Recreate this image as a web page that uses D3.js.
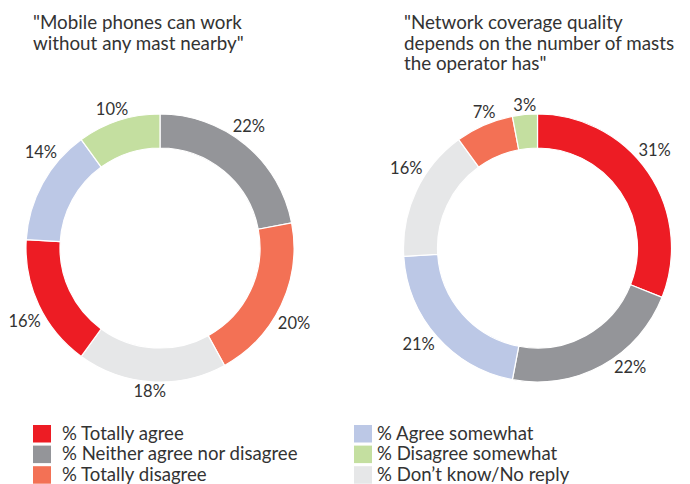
<!DOCTYPE html>
<html>
<head>
<meta charset="utf-8">
<script src="https://cdn.jsdelivr.net/npm/d3@7"></script>
<style>
  html, body { margin: 0; padding: 0; background: #fff; }
  svg text { font-family: Lato, "Noto Sans", sans-serif; fill: #333; }
</style>
</head>
<body>
<svg id="chart" width="690" height="484"></svg>
<script>
// Response categories (legend order) and their colours
const categories = [
  "% Totally agree",
  "% Neither agree nor disagree",
  "% Totally disagree",
  "% Agree somewhat",
  "% Disagree somewhat",
  "% Don\u2019t know/No reply"
];
const colors = ["#ED1C24", "#949599", "#F37155", "#BCC8E6", "#C4DFA0", "#E6E7E8"];

// Survey statement 1: slice order clockwise from 12 o'clock
const order1 = [1, 2, 5, 0, 3, 4];
const values1 = [22, 20, 18, 16, 14, 10];
const title1 = ["\"Mobile phones can work", "without any mast nearby\""];

// Survey statement 2
const order2 = [0, 1, 3, 5, 2, 4];
const values2 = [31, 22, 21, 16, 7, 3];
const title2 = ["\"Network coverage quality", "depends on the number of masts", "the operator has\""];

// small angular nudges (degrees) for the value labels, to keep them clear of each other
const labelNudge1 = [-3.5, 4, 0.5, -3, 10, -1];
const labelNudge2 = [-5.7, -9, 2.5, 6, 2, 0.3];

const svg = d3.select("#chart");
const outerR = 134, innerR = 100;

function drawTitle(lines, x, y0) {
  lines.forEach((line, i) => {
    svg.append("text")
      .attr("font-size", 18.8)
      .attr("x", x).attr("y", y0 + i * 20.5)
      .text(line);
  });
}

function drawDonut(order, values, nudge, cx, cy) {
  const data = order.map((c, i) => ({ cat: c, value: values[i], nudge: nudge[i] }));
  const pie = d3.pie().sort(null).value(d => d.value);
  const arc = d3.arc().innerRadius(innerR).outerRadius(outerR);
  const g = svg.append("g").attr("transform", `translate(${cx},${cy})`);
  const arcs = pie(data);

  g.selectAll("path.slice")
    .data(arcs)
    .join("path")
    .attr("class", "slice")
    .attr("d", arc)
    .attr("fill", d => colors[d.data.cat])
    .attr("stroke", "#fff")
    .attr("stroke-width", 1.2);

  // value labels placed just outside the ring
  const gap = 2.5, fs = 16.5, capH = fs * 0.72;
  g.selectAll("text.val")
    .data(arcs)
    .join("text")
    .attr("class", "val")
    .attr("font-size", fs)
    .attr("text-anchor", "middle")
    .text(d => d.data.value + "%")
    .each(function (d) {
      const a = (d.startAngle + d.endAngle) / 2 + d.data.nudge * Math.PI / 180;
      const sx = Math.sin(a), sy = -Math.cos(a);
      const hw = this.getComputedTextLength() / 2, hh = capH / 2;
      const support = hw * Math.abs(sx) + hh * Math.abs(sy);
      const r = outerR + gap + support;
      d3.select(this).attr("x", r * sx).attr("y", r * sy + hh);
    });
}

drawTitle(title1, 33, 29);
drawTitle(title2, 404, 29);
drawDonut(order1, values1, labelNudge1, 160, 248);
drawDonut(order2, values2, labelNudge2, 537.5, 248);

// Legend: two columns of three rows
const legendCols = [{ x: 33, tx: 62, items: [0, 1, 2] }, { x: 354, tx: 377, items: [3, 4, 5] }];
legendCols.forEach(col => {
  col.items.forEach((c, i) => {
    const y = 425 + i * 20.6;
    svg.append("rect")
      .attr("x", col.x).attr("y", y)
      .attr("width", 18).attr("height", 17.5)
      .attr("fill", colors[c]);
    svg.append("text")
      .attr("x", col.tx).attr("y", y + 14.5)
      .attr("font-size", 18.6)
      .text(categories[c]);
  });
});
</script>
</body>
</html>
